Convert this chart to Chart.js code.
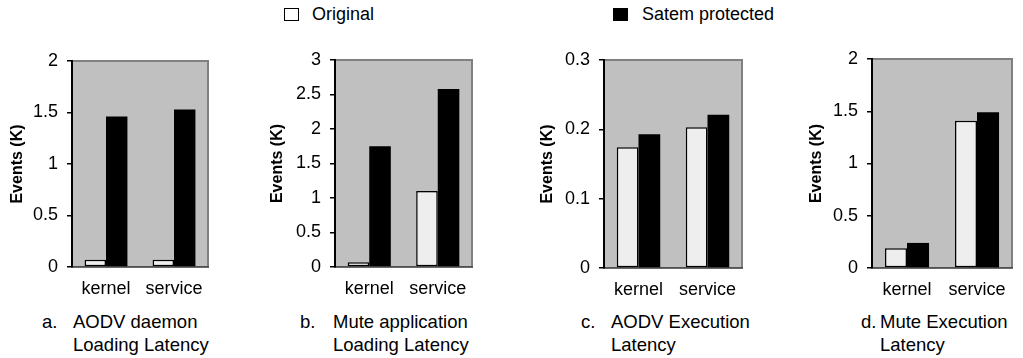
<!DOCTYPE html>
<html>
<head>
<meta charset="utf-8">
<script src="https://cdn.jsdelivr.net/npm/chart.js@4/dist/chart.umd.min.js"></script>
<style>
  html, body { margin: 0; padding: 0; background: #fff; }
  body { width: 1023px; height: 358px; position: relative; overflow: hidden;
         font-family: "Liberation Sans", Arial, sans-serif; color: #000; }
  canvas { position: absolute; top: 0; }
  .legend-item { position: absolute; top: 3px; font-size: 18px; line-height: 22px; white-space: nowrap; }
  .legend-box { position: absolute; width: 15px; height: 13px; box-sizing: border-box; border: 1.5px solid #000; }
  .caption { position: absolute; font-size: 18.5px; line-height: 23px; white-space: nowrap; }
  .caption .tag { position: absolute; top: 0; }
  .caption .body { position: absolute; top: 0; }
</style>
</head>
<body>
<script>
// Categories and series
const categories = ['kernel', 'service'];
const seriesNames = ['Original', 'Satem protected'];
const seriesFill = ['#eeeeee', '#000000'];

// Event counts (thousands) per panel: [kernel, service]
const aodvLoadOriginal = [0.07, 0.07];
const aodvLoadProtected = [1.46, 1.53];
const muteLoadOriginal = [0.07, 1.10];
const muteLoadProtected = [1.75, 2.58];
const aodvExecOriginal = [0.174, 0.203];
const aodvExecProtected = [0.193, 0.221];
const muteExecOriginal = [0.19, 1.41];
const muteExecProtected = [0.24, 1.49];

// Y axis ranges per panel
const axisMax = [2, 3, 0.3, 2];
const axisStep = [0.5, 0.5, 0.1, 0.5];

// Panel captions
const captionTags = ['a.', 'b.', 'c.', 'd.'];
const captionLines = [
  ['AODV daemon', 'Loading Latency'],
  ['Mute application', 'Loading Latency'],
  ['AODV Execution', 'Latency'],
  ['Mute Execution', 'Latency']
];

const panelData = [
  [aodvLoadOriginal, aodvLoadProtected],
  [muteLoadOriginal, muteLoadProtected],
  [aodvExecOriginal, aodvExecProtected],
  [muteExecOriginal, muteExecProtected]
];

// Panel geometry (canvas left, y-axis x, plot right, plot top, plot bottom)
const panels = [
  { left: 6,   axisX: 72,  right: 208,  top: 61, bottom: 267, tagX: 42,  textX: 73 },
  { left: 266, axisX: 335, right: 472,  top: 60, bottom: 267, tagX: 300, textX: 333 },
  { left: 536, axisX: 604, right: 742,  top: 60, bottom: 268, tagX: 581, textX: 611 },
  { left: 805, axisX: 872, right: 1012, top: 59, bottom: 268, tagX: 861, textX: 880 }
];

const FONT = '"Liberation Sans", Arial, sans-serif';
const CANVAS_H = 310;

// Grey plot background with a thin grey frame
const plotBackground = {
  id: 'plotBackground',
  beforeDraw(chart) {
    const { ctx, chartArea: a } = chart;
    ctx.save();
    ctx.fillStyle = '#c0c0c0';
    ctx.fillRect(a.left, a.top, a.right - a.left, a.bottom - a.top);
    ctx.strokeStyle = '#808080';
    ctx.lineWidth = 2;
    ctx.strokeRect(a.left, a.top, a.right - a.left, a.bottom - a.top);
    ctx.restore();
  }
};

// Tick numbers without trailing zeros (0, 0.5, 1, 1.5 ...)
const tickText = v => String(Number(Number(v).toFixed(3)));

// Legend shared by all panels
seriesNames.forEach((name, i) => {
  const boxX = i === 0 ? 284 : 613;
  const textX = i === 0 ? 312 : 642;
  const box = document.createElement('div');
  box.className = 'legend-box';
  box.style.left = boxX + 'px';
  box.style.top = '8px';
  box.style.background = i === 0 ? '#ffffff' : seriesFill[i];
  document.body.appendChild(box);
  const label = document.createElement('div');
  label.className = 'legend-item';
  label.style.left = textX + 'px';
  label.textContent = name;
  document.body.appendChild(label);
});

panels.forEach((p, idx) => {
  const canvas = document.createElement('canvas');
  const width = p.right - p.left + 8;
  canvas.width = width;
  canvas.height = CANVAS_H;
  canvas.style.left = p.left + 'px';
  canvas.style.width = width + 'px';
  canvas.style.height = CANVAS_H + 'px';
  document.body.appendChild(canvas);

  new Chart(canvas, {
    type: 'bar',
    data: {
      labels: categories,
      datasets: seriesNames.map((name, s) => ({
        label: name,
        data: panelData[idx][s],
        backgroundColor: seriesFill[s],
        borderColor: '#000000',
        borderWidth: s === 0 ? 1.5 : 0,
        borderSkipped: false,
        categoryPercentage: 0.63,
        barPercentage: 1.0
      }))
    },
    options: {
      responsive: false,
      animation: false,
      devicePixelRatio: 1,
      layout: { padding: { left: 0, right: 8, top: p.top, bottom: 0 } },
      plugins: { legend: { display: false }, tooltip: { enabled: false } },
      scales: {
        x: {
          grid: { display: false },
          border: { display: true, color: '#505050', width: 1.5 },
          ticks: { color: '#000', font: { family: FONT, size: 18 }, padding: 3, maxRotation: 0 },
          afterFit(scale) { scale.height = CANVAS_H - p.bottom; }
        },
        y: {
          min: 0,
          max: axisMax[idx],
          grid: { drawOnChartArea: false, drawTicks: true, tickLength: 5, color: '#000', lineWidth: 1.5 },
          border: { display: true, color: '#000', width: 2 },
          ticks: { stepSize: axisStep[idx], color: '#000', font: { family: FONT, size: 18 }, padding: 9,
                   callback: tickText },
          title: {
            display: true,
            text: 'Events (K)',
            color: '#000',
            font: { family: FONT, size: 16, weight: 'bold' },
            padding: { top: 2, bottom: 0 }
          },
          afterFit(scale) { scale.width = p.axisX - p.left; }
        }
      }
    },
    plugins: [plotBackground]
  });

  // Caption under the panel
  const cap = document.createElement('div');
  cap.className = 'caption';
  cap.style.left = '0px';
  cap.style.top = '310px';
  const tag = document.createElement('span');
  tag.className = 'tag';
  tag.style.left = p.tagX + 'px';
  tag.textContent = captionTags[idx];
  cap.appendChild(tag);
  captionLines[idx].forEach((line, li) => {
    const span = document.createElement('span');
    span.className = 'body';
    span.style.left = p.textX + 'px';
    span.style.top = (li * 23) + 'px';
    span.textContent = line;
    cap.appendChild(span);
  });
  document.body.appendChild(cap);
});
</script>
</body>
</html>
